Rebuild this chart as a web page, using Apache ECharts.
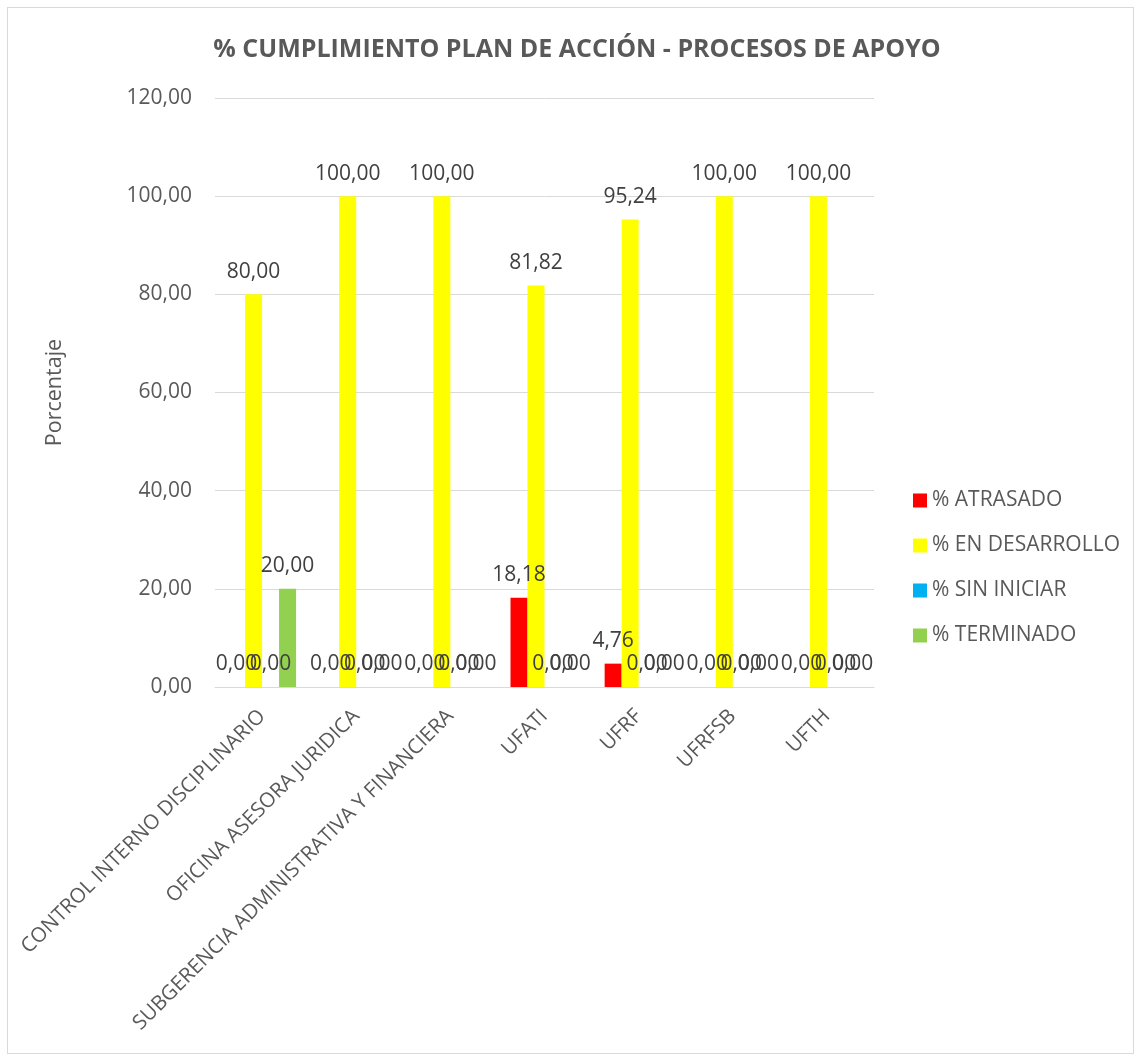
<!DOCTYPE html>
<html>
<head>
<meta charset="utf-8">
<script src="https://cdn.jsdelivr.net/npm/echarts@6/dist/echarts.min.js"></script>
<style>
html,body{margin:0;padding:0;background:#fff;}
#chart{width:1141px;height:1061px;}
#frame{position:absolute;left:7px;top:7px;width:1125px;height:1045px;border:1px solid #D9D9D9;pointer-events:none;}
</style>
</head>
<body>
<div id="chart"></div>
<div id="frame"></div>
<script>
const categories = ['CONTROL INTERNO DISCIPLINARIO','OFICINA ASESORA JURIDICA','SUBGERENCIA ADMINISTRATIVA Y FINANCIERA','UFATI','UFRF','UFRFSB','UFTH'];
const atrasado = [0, 0, 0, 18.18, 4.76, 0, 0];
const enDesarrollo = [80, 100, 100, 81.82, 95.24, 100, 100];
const sinIniciar = [0, 0, 0, 0, 0, 0, 0];
const terminado = [20, 0, 0, 0, 0, 0, 0];
const yTicks = [0, 20, 40, 60, 80, 100, 120];

const FONT = '"Open Sans", "Noto Sans", sans-serif';
const fmt = v => Number(v).toFixed(2).replace('.', ',');
const chart = echarts.init(document.getElementById('chart'));
const lbl = {show:true, position:'top', distance:12, color:'#404040', fontSize:21, fontFamily:FONT, formatter:p=>fmt(p.value)};
function s(name, data, color){
  return {name, type:'bar', data, barWidth:17, barGap:'0%', itemStyle:{color}, label:lbl};
}
chart.setOption({
  animation:false,
  textStyle:{fontFamily:FONT},
  title:{text:'% CUMPLIMIENTO PLAN DE ACCIÓN - PROCESOS DE APOYO', left:572, textAlign:'center', top:32,
    textStyle:{fontSize:25, fontWeight:'bold', color:'#595959', fontFamily:FONT}},
  legend:{orient:'vertical', left:908, top:485, itemWidth:14, itemHeight:14, itemGap:24, icon:'rect',
    textStyle:{fontSize:21, color:'#595959', fontFamily:FONT}},
  grid:{left:215, right:267, top:98, bottom:374, containLabel:false},
  xAxis:{type:'category', data:categories,
    axisLine:{lineStyle:{color:'#D9D9D9', width:1}}, axisTick:{show:false},
    axisLabel:{rotate:45, interval:0, fontSize:20.5, color:'#595959', fontFamily:FONT, margin:26}},
  yAxis:{type:'value', min:yTicks[0], max:yTicks[yTicks.length-1], interval:20,
    name:'Porcentaje', nameLocation:'middle', nameGap:149, nameRotate:90,
    nameTextStyle:{fontSize:21.5, color:'#595959', fontFamily:FONT},
    axisLine:{show:false}, axisTick:{show:false},
    axisLabel:{fontSize:21, color:'#595959', fontFamily:FONT, margin:23, formatter:v=>fmt(v)},
    splitLine:{lineStyle:{color:'#D9D9D9', width:1}}},
  series:[
    s('% ATRASADO', atrasado, '#FF0000'),
    s('% EN DESARROLLO', enDesarrollo, '#FFFF00'),
    s('% SIN INICIAR', sinIniciar, '#00B0F0'),
    s('% TERMINADO', terminado, '#92D050')
  ]
});
</script>
</body>
</html>
